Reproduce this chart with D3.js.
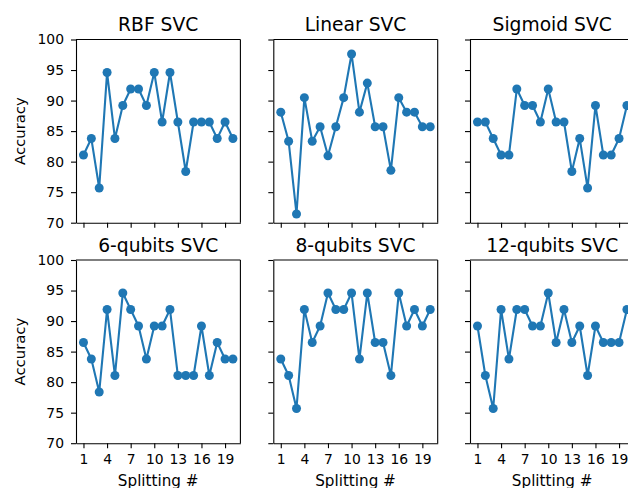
<!DOCTYPE html>
<html>
<head>
<meta charset="utf-8">
<script src="https://cdn.jsdelivr.net/npm/d3@7"></script>
<style>
  html, body { margin: 0; padding: 0; background: #fff; }
  svg { display: block; }
  text { font-family: "DejaVu Sans", sans-serif; fill: #000; }
</style>
</head>
<body>
<div id="chart"></div>
<script>
// ---- data ----
const splits = [1,2,3,4,5,6,7,8,9,10,11,12,13,14,15,16,17,18,19,20];
const xTicks = [1,4,7,10,13,16,19];
const yTicks = [70,75,80,85,90,95,100];
const titles = ["RBF SVC","Linear SVC","Sigmoid SVC","6-qubits SVC","8-qubits SVC","12-qubits SVC"];

const rbfSVC     = [81.08,83.78,75.68,94.59,83.78,89.19,91.89,91.89,89.19,94.59,86.49,94.59,86.49,78.38,86.49,86.49,86.49,83.78,86.49,83.78];
const linearSVC  = [88.10,83.33,71.43,90.48,83.33,85.71,80.95,85.71,90.48,97.62,88.10,92.86,85.71,85.71,78.57,90.48,88.10,88.10,85.71,85.71];
const sigmoidSVC = [86.49,86.49,83.78,81.08,81.08,91.89,89.19,89.19,86.49,91.89,86.49,86.49,78.38,83.78,75.68,89.19,81.08,81.08,83.78,89.19];
const qubits6SVC = [86.49,83.78,78.38,91.89,81.08,94.59,91.89,89.19,83.78,89.19,89.19,91.89,81.08,81.08,81.08,89.19,81.08,86.49,83.78,83.78];
const qubits8SVC = [83.78,81.08,75.68,91.89,86.49,89.19,94.59,91.89,91.89,94.59,83.78,94.59,86.49,86.49,81.08,94.59,89.19,91.89,89.19,91.89];
const qubits12SVC= [89.19,81.08,75.68,91.89,83.78,91.89,91.89,89.19,89.19,94.59,86.49,91.89,86.49,89.19,81.08,89.19,86.49,86.49,86.49,91.89];

const series = [rbfSVC, linearSVC, sigmoidSVC, qubits6SVC, qubits8SVC, qubits12SVC];

// ---- layout ----
const W = 628, H = 488;
const colLeft = [76, 273.3, 470];
const axW = 164.4;
const rowTop = [39.5, 260];
const axH = 183.2;
const color = "#1f77b4";

const svg = d3.select("#chart").append("svg")
  .attr("width", W).attr("height", H)
  .attr("viewBox", `0 0 ${W} ${H}`);

series.forEach((vals, i) => {
  const r = Math.floor(i / 3), c = i % 3;
  const x0 = colLeft[c], y0 = rowTop[r];
  const x = d3.scaleLinear().domain([0.05, 20.95]).range([x0, x0 + axW]);
  const y = d3.scaleLinear().domain([70, 100]).range([y0 + axH, y0]);

  const g = svg.append("g");

  // line + markers
  const line = d3.line().x((d, j) => x(splits[j])).y(d => y(d));
  g.append("path").datum(vals)
    .attr("d", line)
    .attr("fill", "none")
    .attr("stroke", color)
    .attr("stroke-width", 2.1)
    .attr("stroke-linejoin", "round");
  g.selectAll("circle").data(vals).join("circle")
    .attr("cx", (d, j) => x(splits[j]))
    .attr("cy", d => y(d))
    .attr("r", 4.5)
    .attr("fill", color);

  // axes
  const yAxis = d3.axisLeft(y).tickValues(yTicks).tickSize(5).tickSizeOuter(0).tickPadding(7)
    .tickFormat(c === 0 ? d3.format("d") : () => "");
  const xAxis = d3.axisBottom(x).tickValues(xTicks).tickSize(5).tickSizeOuter(0).tickPadding(6)
    .tickFormat(r === 1 ? d3.format("d") : () => "");

  const gy = g.append("g").attr("transform", `translate(${x0},0)`).call(yAxis);
  const gx = g.append("g").attr("transform", `translate(0,${y0 + axH})`).call(xAxis);
  [gy, gx].forEach(a => {
    a.selectAll("path.domain").attr("stroke", "#000").attr("stroke-width", 1.1);
    a.selectAll(".tick line").attr("stroke", "#000").attr("stroke-width", 1.1);
    a.selectAll(".tick text").attr("font-size", 13.9).attr("font-family", "DejaVu Sans").attr("fill", "#000");
  });

  // top and right spines
  g.append("line").attr("x1", x0).attr("x2", x0 + axW).attr("y1", y0).attr("y2", y0)
    .attr("stroke", "#000").attr("stroke-width", 1.1);
  g.append("line").attr("x1", x0 + axW).attr("x2", x0 + axW).attr("y1", y0).attr("y2", y0 + axH)
    .attr("stroke", "#000").attr("stroke-width", 1.1);

  // title
  g.append("text")
    .attr("x", x0 + axW / 2).attr("y", y0 - 8.5)
    .attr("text-anchor", "middle")
    .attr("font-size", 18.7)
    .text(titles[i]);

  if (c === 0) {
    g.append("text")
      .attr("transform", `translate(24.5,${y0 + axH / 2}) rotate(-90)`)
      .attr("text-anchor", "middle")
      .attr("font-size", 14.8)
      .text("Accuracy");
  }
  if (r === 1) {
    g.append("text")
      .attr("x", x0 + axW / 2).attr("y", 485.5)
      .attr("text-anchor", "middle")
      .attr("font-size", 15.2)
      .text("Splitting #");
  }
});
</script>
</body>
</html>
